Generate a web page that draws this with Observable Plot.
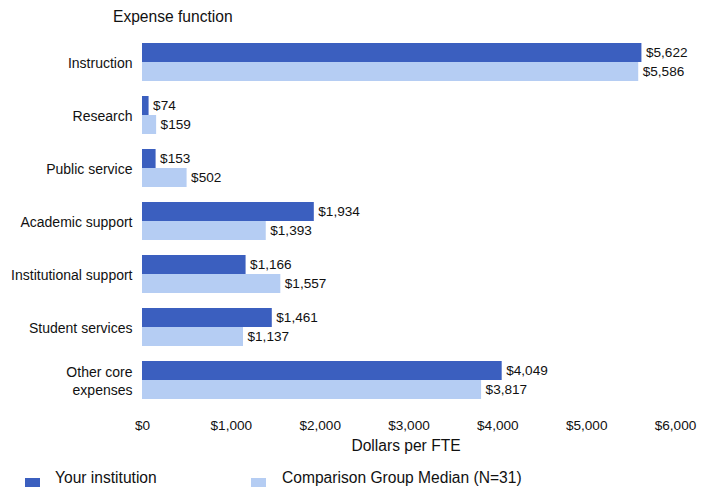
<!DOCTYPE html>
<html>
<head>
<meta charset="utf-8">
<script src="https://cdn.jsdelivr.net/npm/d3@7"></script>
<script src="https://cdn.jsdelivr.net/npm/@observablehq/plot@0.6"></script>
<style>
  html, body { margin: 0; padding: 0; background: #fff; }
  body { position: relative; width: 715px; height: 487px; overflow: hidden; font-family: "Liberation Sans", Arial, sans-serif; color: #111; }
  #chart { position: absolute; left: 0; top: 0; z-index: 0; }
  .title { position: absolute; left: 113px; top: 8px; font-size: 15.6px; white-space: nowrap; z-index: 2; }
  .xlabel { position: absolute; left: 0; width: 812px; top: 437px; font-size: 15.6px; text-align: center; z-index: 2; }
  .leg { position: absolute; font-size: 15.6px; white-space: nowrap; z-index: 2; }
  .sw { position: absolute; width: 15px; height: 15px; z-index: 2; }
</style>
</head>
<body>
<div id="chart"></div>
<div class="title">Expense function</div>
<div class="xlabel" id="xlabel"></div>
<div class="sw" id="sw0" style="left:25px; top:478px;"></div>
<div class="leg" id="lg0" style="left:55px; top:469px;"></div>
<div class="sw" id="sw1" style="left:251px; top:478px;"></div>
<div class="leg" id="lg1" style="left:282px; top:469px;"></div>
<script>
const categories = ["Instruction", "Research", "Public service", "Academic support", "Institutional support", "Student services", "Other core expenses"];
const seriesNames = ["Your institution", "Comparison Group Median (N=31)"];
const yourInstitution = [5622, 74, 153, 1934, 1166, 1461, 4049];
const comparisonMedian = [5586, 159, 502, 1393, 1557, 1137, 3817];
const xTicks = [0, 1000, 2000, 3000, 4000, 5000, 6000];
const xLabel = "Dollars per FTE";
const colors = ["#3b5fbf", "#b5cdf3"];

const data = [];
categories.forEach((c, i) => {
  data.push({cat: c, series: seriesNames[0], value: yourInstitution[i]});
  data.push({cat: c, series: seriesNames[1], value: comparisonMedian[i]});
});

const money = v => "$" + d3.format(",")(v);
const catLabel = d => d === "Other core expenses" ? "Other core\nexpenses" : d;

const plot = Plot.plot({
  width: 715,
  height: 460,
  marginLeft: 142,
  marginRight: 40,
  marginTop: 40,
  marginBottom: 60,
  style: {fontFamily: "'Liberation Sans', Arial, sans-serif", fontSize: "13.6px", color: "#111", background: "transparent"},
  x: {domain: [0, 6000], ticks: xTicks, tickFormat: money, tickSize: 0, tickPadding: 21, label: null},
  y: {domain: seriesNames, axis: null, padding: 0},
  fy: {domain: categories, paddingInner: 0.27, paddingOuter: 0, axis: null},
  color: {domain: seriesNames, range: colors},
  marks: [
    Plot.barX(data, {x: "value", y: "series", fy: "cat", fill: "series"}),
    Plot.text(data, {x: "value", y: "series", fy: "cat", text: d => money(d.value), dx: 4, textAnchor: "start", fill: "#111", fontSize: 13.6}),
    Plot.axisFy({anchor: "left", tickSize: 0, tickPadding: 10, label: null, tickFormat: catLabel, fontSize: 14, lineHeight: 1.33})
  ]
});
document.getElementById("chart").appendChild(plot);

document.getElementById("xlabel").textContent = xLabel;
document.getElementById("sw0").style.background = colors[0];
document.getElementById("sw1").style.background = colors[1];
document.getElementById("lg0").textContent = seriesNames[0];
document.getElementById("lg1").textContent = seriesNames[1];
</script>
</body>
</html>
